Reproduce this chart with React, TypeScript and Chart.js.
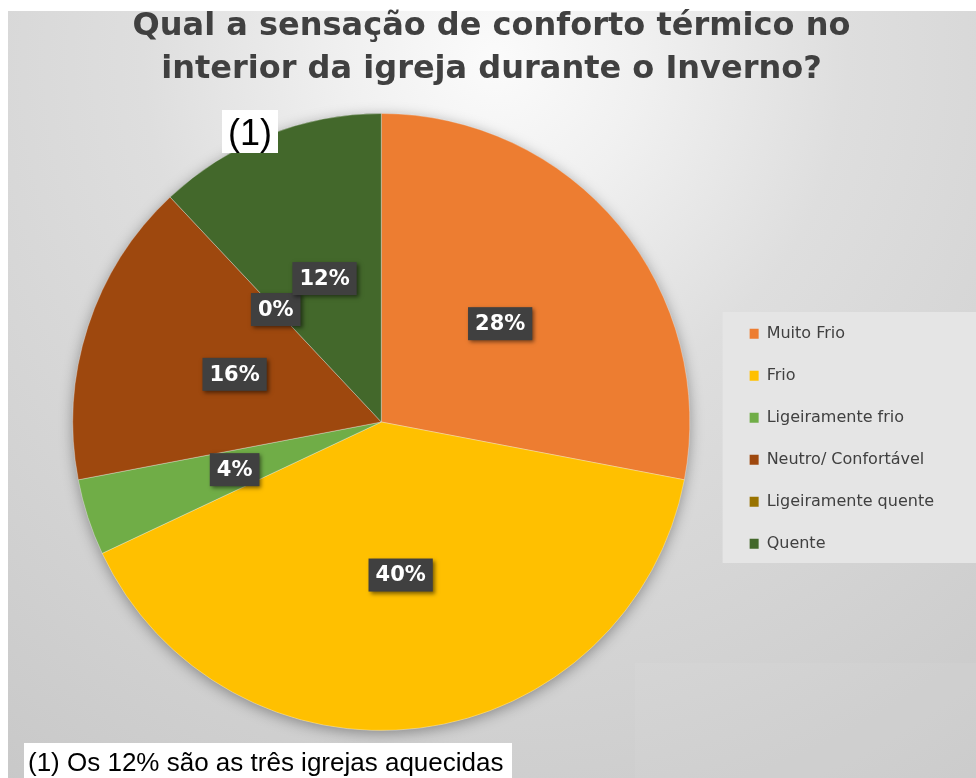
import React, { useEffect, useRef } from "react";
import { Chart, registerables } from "chart.js";

Chart.register(...registerables);

const categories = [
  "Muito Frio",
  "Frio",
  "Ligeiramente frio",
  "Neutro/ Confortável",
  "Ligeiramente quente",
  "Quente",
];
const values = [28, 40, 4, 16, 0, 12];
const colors = ["#ED7D31", "#FFC000", "#70AD47", "#9E480E", "#997300", "#43682B"];
const titleLines = [
  "Qual a sensação de conforto térmico no",
  "interior da igreja durante o Inverno?",
];
const markerText = "(1)";
const footnoteText = "(1) Os 12% são as três igrejas aquecidas";

const decorPlugin = {
  id: "decor",
  beforeDraw(chart: any) {
    const { ctx, width, height } = chart;
    ctx.save();
    ctx.fillStyle = "#ffffff";
    ctx.fillRect(0, 0, width, height);
    const g = ctx.createRadialGradient(495, 60, 0, 495, 60, 880);
    g.addColorStop(0, "#fbfbfb");
    g.addColorStop(0.17, "#f0f0f0");
    g.addColorStop(0.4, "#dedede");
    g.addColorStop(0.7, "#d3d3d3");
    g.addColorStop(1, "#c8c8c8");
    ctx.fillStyle = g;
    ctx.fillRect(8, 11, width - 8, height - 11);
    ctx.fillStyle = "rgba(255,255,255,0.06)";
    ctx.fillRect(635, 663, width - 635, height - 663);
    const lg = chart.legend;
    if (lg) {
      const mid = (lg.top + lg.bottom) / 2 + 16;
      ctx.fillStyle = "#e5e5e5";
      ctx.fillRect(lg.left - 1, mid - 126, width - lg.left + 1, 251);
    }
    ctx.restore();
  },
  beforeDatasetsDraw(chart: any) {
    const { ctx } = chart;
    const arc = chart.getDatasetMeta(0).data[0];
    if (!arc) return;
    ctx.save();
    ctx.shadowColor = "rgba(0,0,0,0.35)";
    ctx.shadowBlur = 14;
    ctx.shadowOffsetY = 3;
    ctx.beginPath();
    ctx.arc(arc.x, arc.y, arc.outerRadius, 0, Math.PI * 2);
    ctx.fillStyle = "#bbbbbb";
    ctx.fill();
    ctx.restore();
  },
  afterDatasetsDraw(chart: any) {
    const { ctx } = chart;
    const meta = chart.getDatasetMeta(0);
    const total = values.reduce((a, b) => a + b, 0);
    ctx.save();
    ctx.font = "bold 21px 'DejaVu Sans'";
    ctx.textAlign = "center";
    ctx.textBaseline = "middle";
    meta.data.forEach((el: any, i: number) => {
      const p = el.getCenterPoint();
      const txt = Math.round((values[i] / total) * 100) + "%";
      const w = ctx.measureText(txt).width + 14;
      const h = 33;
      ctx.save();
      ctx.shadowColor = "rgba(0,0,0,0.5)";
      ctx.shadowBlur = 4;
      ctx.shadowOffsetX = 2;
      ctx.shadowOffsetY = 2;
      ctx.fillStyle = "#404040";
      ctx.fillRect(p.x - w / 2, p.y - h / 2, w, h);
      ctx.restore();
      ctx.fillStyle = "#ffffff";
      ctx.fillText(txt, p.x, p.y + 1);
    });
    ctx.restore();
  },
  afterDraw(chart: any) {
    const { ctx } = chart;
    ctx.save();
    ctx.fillStyle = "#ffffff";
    ctx.fillRect(222, 110, 56, 43);
    ctx.fillStyle = "#000000";
    ctx.font = "36px 'Liberation Sans', Arial";
    ctx.textAlign = "center";
    ctx.textBaseline = "alphabetic";
    ctx.fillText(markerText, 250, 145);
    ctx.fillStyle = "#ffffff";
    ctx.fillRect(24, 743, 488, 35);
    ctx.fillStyle = "#000000";
    ctx.font = "26px 'Liberation Sans', Arial";
    ctx.textAlign = "left";
    ctx.fillText(footnoteText, 28, 771);
    ctx.restore();
  },
};

export default function App() {
  const ref = useRef<HTMLCanvasElement>(null);
  useEffect(() => {
    const chart = new Chart(ref.current as HTMLCanvasElement, {
      type: "pie",
      data: {
        labels: categories,
        datasets: [
          {
            data: values,
            backgroundColor: colors,
            borderColor: "rgba(255,255,255,0.3)",
            borderWidth: 1,
          },
        ],
      },
      options: {
        responsive: false,
        animation: false,
        devicePixelRatio: 1,
        layout: { padding: { left: 39, right: 32, top: 0, bottom: 47 } },
        plugins: {
          tooltip: { enabled: false },
          title: {
            display: true,
            text: titleLines,
            color: "#404040",
            font: { family: "'DejaVu Sans'", size: 32, weight: "bold", lineHeight: 43 / 32 },
            padding: { top: 5, bottom: 22 },
          },
          legend: {
            display: true,
            position: "right",
            fullSize: false,
            align: "center",
            title: {
              display: true,
              text: " ",
              font: { size: 12, lineHeight: 1.2 },
              padding: { top: 9.5, bottom: 9.5 },
            },
            labels: {
              boxWidth: 9,
              boxHeight: 10,
              padding: 26,
              color: "#404040",
              font: { family: "'DejaVu Sans'", size: 16 },
              generateLabels: (c: any) => {
                const items = Chart.overrides.pie.plugins.legend.labels.generateLabels(c);
                return items.map((it: any) => ({ ...it, lineWidth: 0, strokeStyle: "transparent" }));
              },
            },
          },
        },
      },
      plugins: [decorPlugin],
    } as any);
    return () => chart.destroy();
  }, []);
  return (
    <div style={{ position: "fixed", left: 0, top: 0, width: 976, height: 778 }}>
      <canvas ref={ref} width={976} height={778} style={{ display: "block" }} />
    </div>
  );
}
